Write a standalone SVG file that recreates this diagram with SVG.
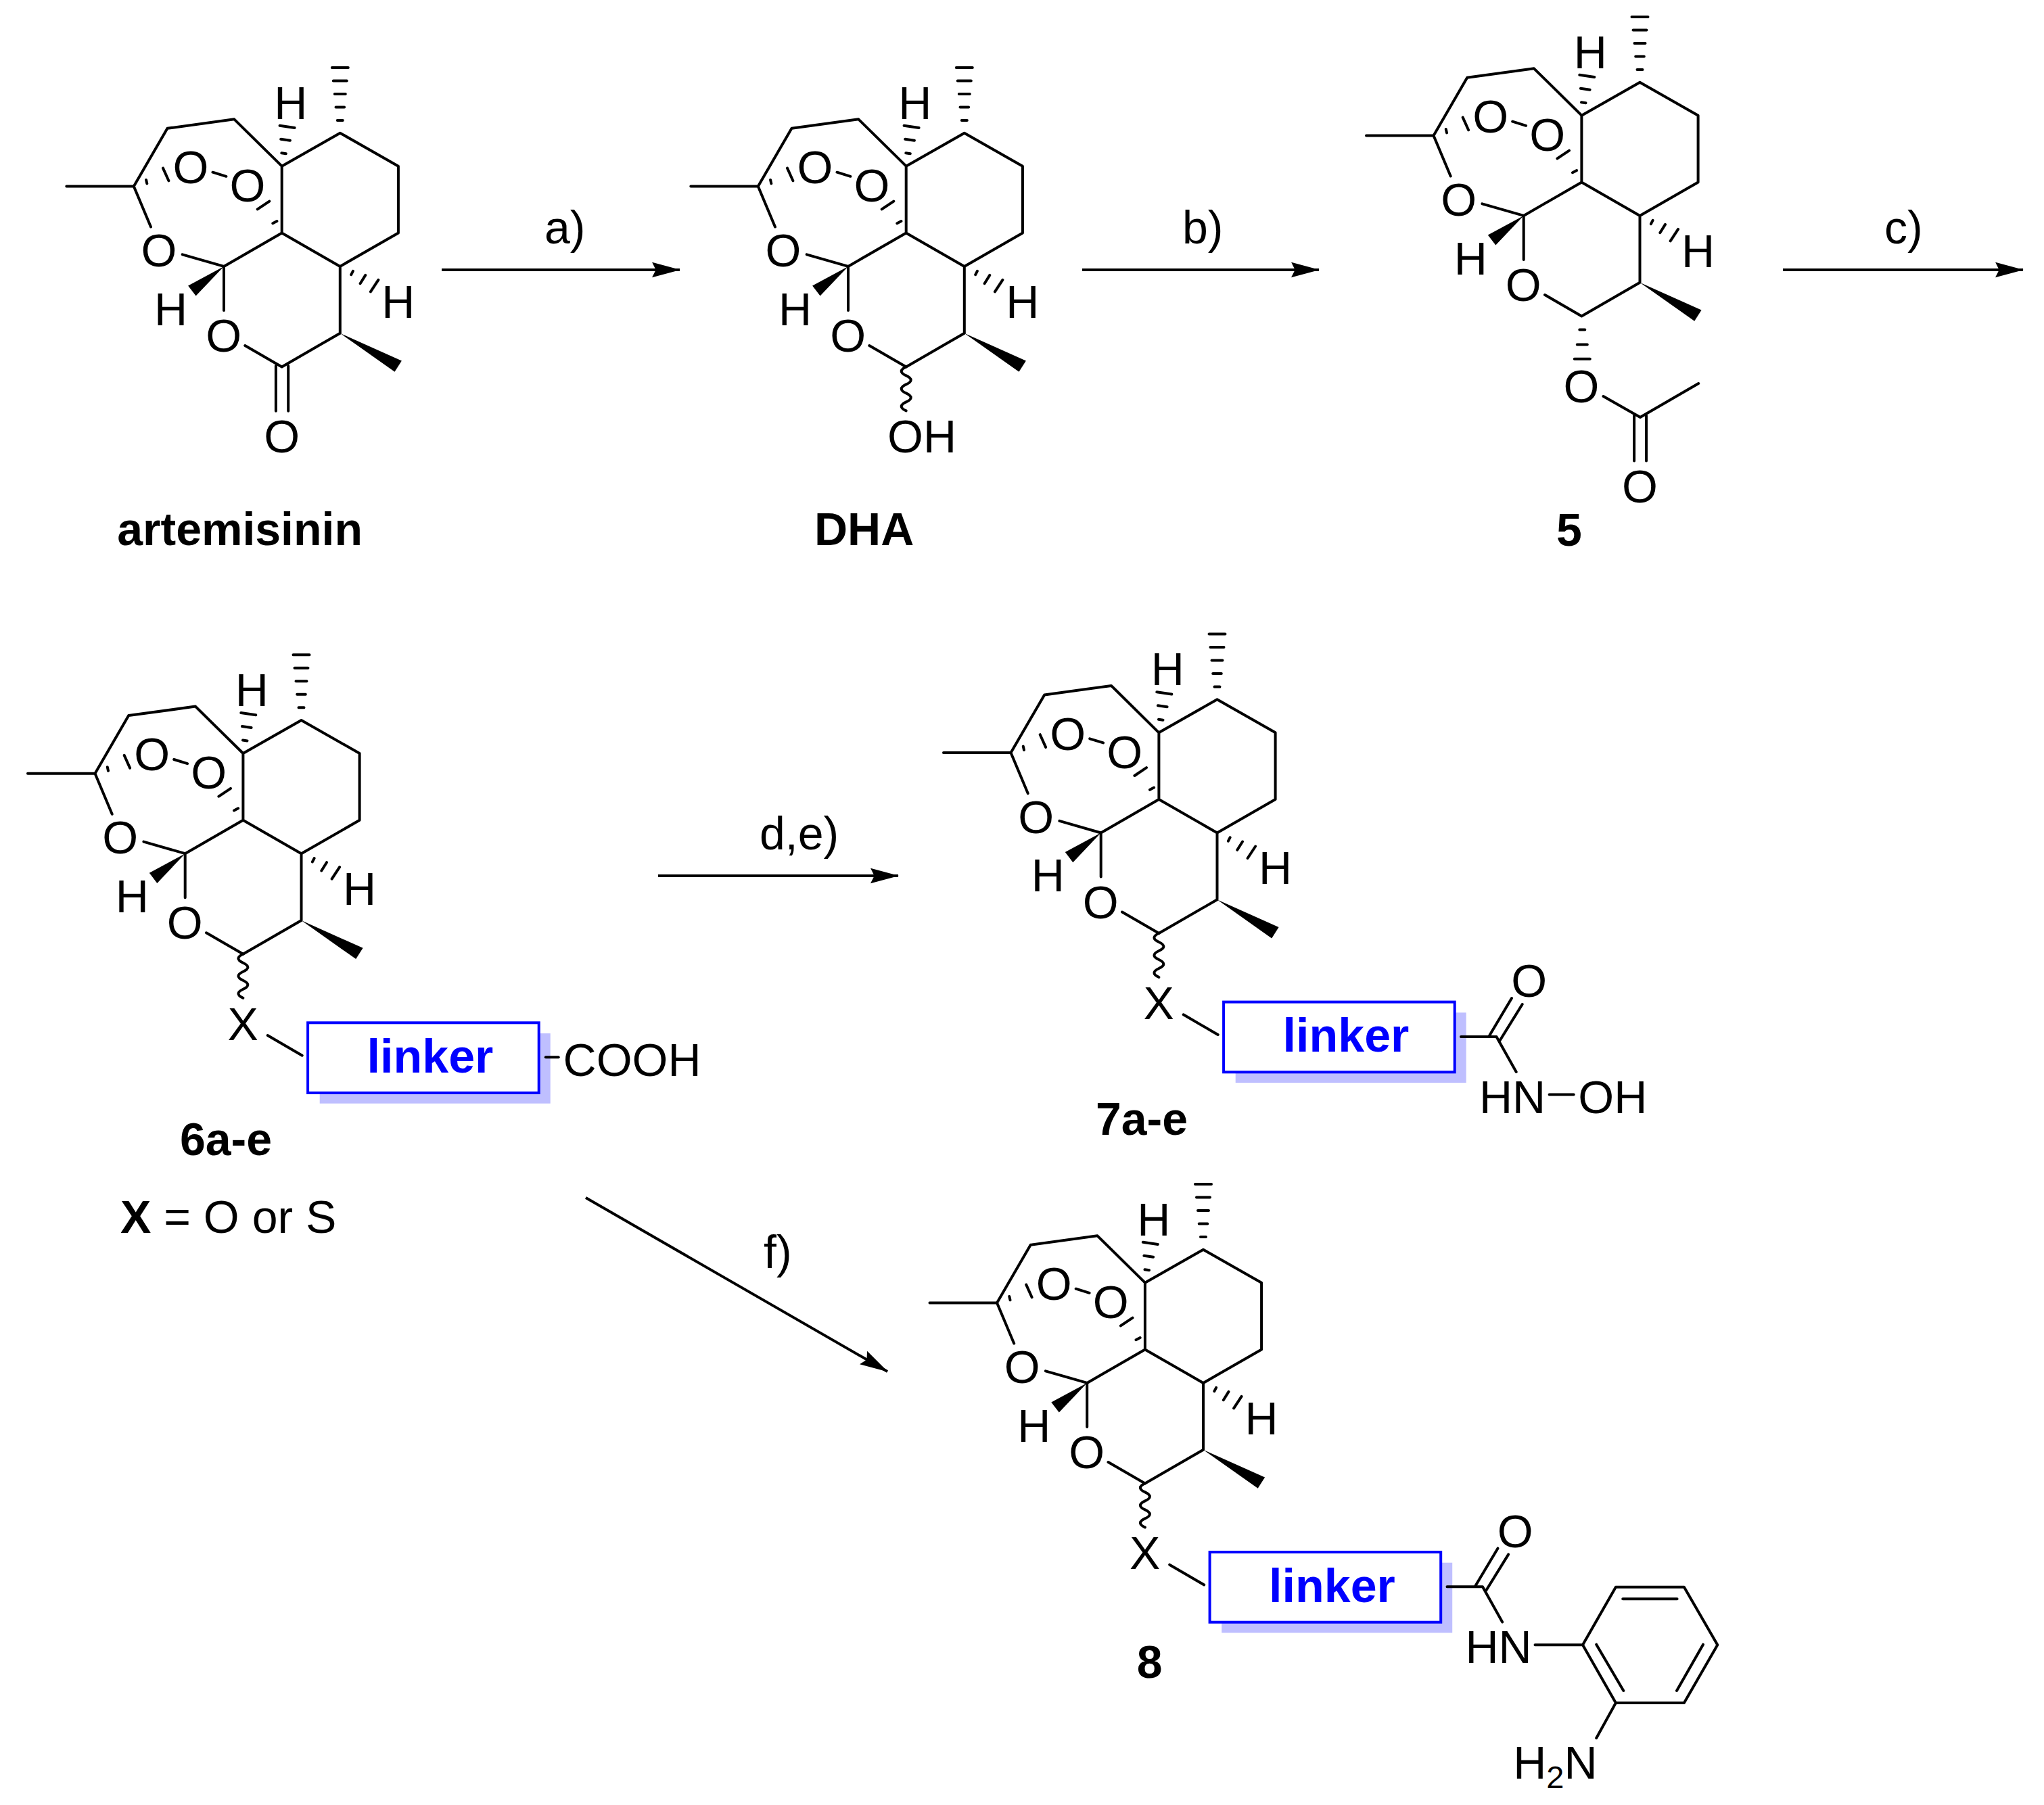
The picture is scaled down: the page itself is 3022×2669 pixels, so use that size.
<svg xmlns="http://www.w3.org/2000/svg" width="3022" height="2669" viewBox="0 0 3022 2669">
<style>
text{font-family:"Liberation Sans",Arial,sans-serif;font-size:68px;fill:#000}
.a{text-anchor:middle}
.b{font-weight:bold}
.lk{font-weight:bold;font-size:70px;fill:#0000ff;text-anchor:middle}
.sub{font-size:47px}
.bond{fill:none;stroke:#000;stroke-width:4;stroke-linecap:round;stroke-linejoin:round}
.arrow{fill:none;stroke:#000;stroke-width:4;marker-end:url(#head)}
.box{fill:#fff;stroke:#0000ff;stroke-width:4}
.shadow{fill:#bfbfff}
</style>
<defs>
<marker id="head" viewBox="0 0 42 23" refX="41" refY="11.5" markerWidth="42" markerHeight="23" markerUnits="userSpaceOnUse" orient="auto"><path d="M0 0.2L42 11.5L0 22.8L5.7 11.5Z" fill="#000"/></marker>
<g id="core">
<path class="bond" d="M98.3 275.5H197.8L247.5 189.8L346.3 176.3L416.7 245.7L502.8 196.7L588.9 245.7V344.5L502.8 393.9L416.7 344.5V245.7M416.7 344.5L331 393.9V459M502.8 393.9V492.7L416.7 542.4L362.3 511M197.8 275.5L223 335.5M269.7 376.3L331 393.9"/>
<path class="bond" d="M216.1 266L217.3 271.4M241 248.6L249.4 267.3M314.5 254.7L334.4 260.8M380.7 309.4L398.3 297.6M403.3 330.2L409.4 327M413.6 185.7L435.6 189M415.2 205.7L428.9 207.7M416.3 226.2L422.8 227.2M490.8 100H514.8M492.8 119.5H512.8M494.8 139H510.8M496.5 158.5H509.1M498.8 178H506.8M519.2 406.1L521.9 400.8M532.6 419.2L540.3 406.9M547.9 431.4L559.4 413.9"/>
<path d="M502.8 492.7L593.9 533.5L583.5 549.8ZM331 393.9L278.1 422.4L289.6 437.6Z" fill="#000"/>
</g>
<g id="linkerBox">
<rect class="shadow" x="530" y="659.7" width="341" height="103.7"/>
<rect class="box" x="512.4" y="644" width="341.6" height="103.7"/>
<path class="bond" d="M453 662.7L504 692.4M416.7 542.4q-14 6.5 0 13t0 13t0 13t0 13t0 13"/>
</g>
<g id="amide">
<path class="bond" d="M863.3 695.3H915.8L945 747.4M905 694.3L938.3 638.4M921 700.7L954 647.4"/>
</g>
</defs>
<g id="connectors">
<path class="arrow" d="M653 399H1005"/>
<path class="arrow" d="M1600 399H1950"/>
<path class="arrow" d="M2636 399H2991"/>
<path class="arrow" d="M973 1295H1328"/>
<path class="arrow" d="M866 1771L1312 2028"/>
</g>
<g id="arrow-labels">
<text x="805" y="360">a)</text>
<text x="1748" y="360">b)</text>
<text x="2786" y="360">c)</text>
<text x="1123" y="1256">d,e)</text>
<text x="1129" y="1875">f)</text>
</g>
<g id="artemisinin">
<use href="#core"/>
<path class="bond" d="M407.9 541V607.7M426.2 541V607.7"/>
<text class="a" x="282" y="271">O</text><text class="a" x="366" y="298">O</text><text class="a" x="235" y="394">O</text><text class="a" x="330.6" y="520">O</text>
<text class="a" x="429.7" y="175.5">H</text><text class="a" x="588.9" y="469.7">H</text><text class="a" x="252.5" y="480.7">H</text>
<text class="a" x="416.7" y="668.5">O</text>
<text class="a b" x="354.6" y="805.5">artemisinin</text>
</g>
<g id="DHA" transform="translate(923 0)">
<use href="#core"/>
<path class="bond" d="M416.7 542.4q-14 6.5 0 13t0 13t0 13t0 13t0 13"/>
<text class="a" x="282" y="271">O</text><text class="a" x="366" y="298">O</text><text class="a" x="235" y="394">O</text><text class="a" x="330.6" y="520">O</text>
<text class="a" x="429.7" y="175.5">H</text><text class="a" x="588.9" y="469.7">H</text><text class="a" x="252.5" y="480.7">H</text>
<text x="389" y="668.5">OH</text>
<text class="a b" x="354.6" y="805.5">DHA</text>
</g>
<g id="compound-5" transform="translate(1921.7 -75)">
<use href="#core"/>
<path class="bond" d="M413.6 562.5H421.6M410.1 584.4H425.1M406.1 605.8H429.1M448.8 661L503.3 691.9L589.5 642M494.4 689.4V756.6M512.3 689.4V756.6"/>
<text class="a" x="282" y="271">O</text><text class="a" x="366" y="298">O</text><text class="a" x="235" y="394">O</text><text class="a" x="330.6" y="520">O</text>
<text class="a" x="429.7" y="175.5">H</text><text class="a" x="588.9" y="469.7">H</text><text class="a" x="252.5" y="480.7">H</text>
<text class="a" x="416.3" y="669.6">O</text><text class="a" x="502.8" y="817.9">O</text>
<text class="a b" x="398.3" y="882">5</text>
</g>
<g id="compound-6" transform="translate(-57.3 868.3)">
<use href="#core"/><use href="#linkerBox"/>
<text class="a" x="282" y="271">O</text><text class="a" x="366" y="298">O</text><text class="a" x="235" y="394">O</text><text class="a" x="330.6" y="520">O</text>
<text class="a" x="429.7" y="175.5">H</text><text class="a" x="588.9" y="469.7">H</text><text class="a" x="252.5" y="480.7">H</text>
<text class="a" x="416.5" y="669.4">X</text>
<text class="lk" x="693.3" y="717.7">linker</text>
<path class="bond" d="M864.1 695H883"/>
<text x="889.9" y="722.4">COOH</text>
<text class="a b" x="391.3" y="839.7">6a-e</text>
</g>
<text id="x-note" x="178" y="1823"><tspan class="b">X</tspan> = O or S</text>
<g id="compound-7" transform="translate(1296.7 837.6)">
<use href="#core"/><use href="#linkerBox"/><use href="#amide"/>
<text class="a" x="282" y="271">O</text><text class="a" x="366" y="298">O</text><text class="a" x="235" y="394">O</text><text class="a" x="330.6" y="520">O</text>
<text class="a" x="429.7" y="175.5">H</text><text class="a" x="588.9" y="469.7">H</text><text class="a" x="252.5" y="480.7">H</text>
<text class="a" x="416.5" y="669.4">X</text>
<text class="lk" x="693.3" y="717.7">linker</text>
<text class="a" x="964" y="636.6">O</text>
<text x="890.2" y="808">HN</text>
<path class="bond" d="M994 781H1030"/>
<text x="1036.6" y="808">OH</text>
<text class="a b" x="391.3" y="840">7a-e</text>
</g>
<g id="compound-8" transform="translate(1276.2 1651)">
<use href="#core"/><use href="#linkerBox"/><use href="#amide"/>
<text class="a" x="282" y="271">O</text><text class="a" x="366" y="298">O</text><text class="a" x="235" y="394">O</text><text class="a" x="330.6" y="520">O</text>
<text class="a" x="429.7" y="175.5">H</text><text class="a" x="588.9" y="469.7">H</text><text class="a" x="252.5" y="480.7">H</text>
<text class="a" x="416.5" y="669.4">X</text>
<text class="lk" x="693.3" y="717.7">linker</text>
<text class="a" x="964" y="636.6">O</text>
<text x="890.2" y="808">HN</text>
<path class="bond" d="M993.3 781.3H1063.8L1112.7 695.7H1213.7L1263.1 781.3L1213.7 867H1112.7L1063.8 781.3M1123 713.3H1203.4M1084 780.7L1124.1 849M1241.8 780.7L1202.8 849M1112.7 867L1084 919"/>
<text x="961" y="979">H<tspan class="sub" dy="14">2</tspan><tspan dy="-14">N</tspan></text>
<text class="a b" x="423.4" y="830">8</text>
</g>
</svg>
